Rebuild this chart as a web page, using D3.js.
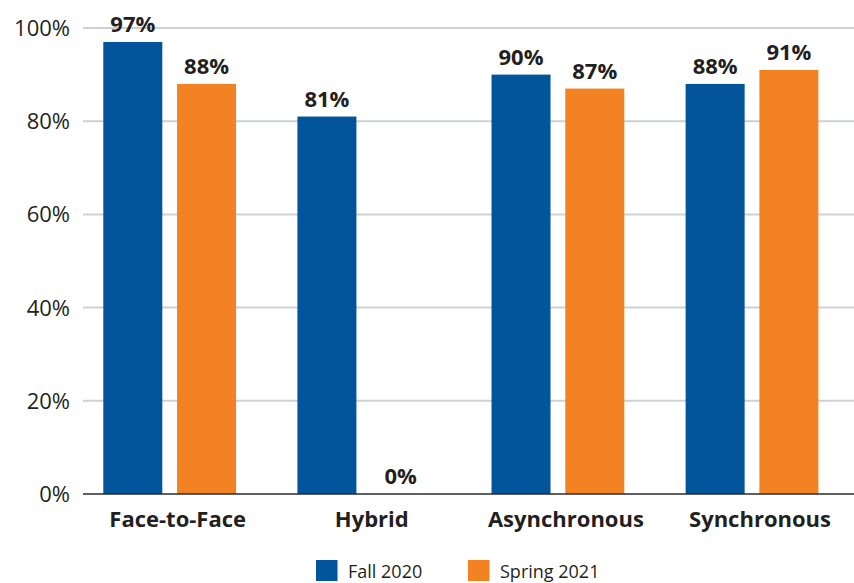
<!DOCTYPE html>
<html>
<head>
<meta charset="utf-8">
<script src="https://cdn.jsdelivr.net/npm/d3@7"></script>
<style>
  html, body { margin: 0; padding: 0; background: #ffffff; }
  svg { display: block; font-family: "Open Sans", "Noto Sans", sans-serif; }
</style>
</head>
<body>
<svg id="chart" width="854" height="583"></svg>
<script>
// Course modality categories and the share for each term
const categories = ["Face-to-Face", "Hybrid", "Asynchronous", "Synchronous"];
const seriesNames = ["Fall 2020", "Spring 2021"];
const fall2020 = [0.97, 0.81, 0.90, 0.88];
const spring2021 = [0.88, 0.00, 0.87, 0.91];
const yTicks = [0, 0.2, 0.4, 0.6, 0.8, 1.0];

const seriesValues = [fall2020, spring2021];
const colors = ["#02559a", "#f38222"];
const textColor = "#231f20";

const svg = d3.select("#chart");
const plotLeft = 83, plotRight = 854;

const y = d3.scaleLinear().domain([0, 1]).range([494, 28]);

const x0 = d3.scaleBand()
  .domain(categories)
  .range([103.3, 818.4])
  .paddingInner(0.316)
  .paddingOuter(0);

const x1 = d3.scaleBand()
  .domain(seriesNames)
  .range([0, x0.bandwidth()])
  .paddingInner(0.2)
  .paddingOuter(0);

const pct = d3.format(".0%");

// Horizontal gridlines
svg.append("g")
  .selectAll("line")
  .data(yTicks.filter(t => t > 0))
  .join("line")
  .attr("x1", plotLeft).attr("x2", plotRight)
  .attr("y1", d => y(d)).attr("y2", d => y(d))
  .attr("stroke", "#cdd1d5")
  .attr("stroke-width", 2);

// Y-axis tick labels
svg.append("g")
  .selectAll("text")
  .data(yTicks)
  .join("text")
  .attr("x", 70)
  .attr("y", d => y(d))
  .attr("dy", "0.36em")
  .attr("text-anchor", "end")
  .attr("font-size", 22)
  .attr("fill", textColor)
  .text(d => pct(d));

// Bars grouped by category
const groups = svg.append("g")
  .selectAll("g")
  .data(categories)
  .join("g")
  .attr("transform", c => `translate(${x0(c)},0)`);

const cells = groups.selectAll("g")
  .data((c, i) => seriesNames.map((s, k) => ({ series: s, k, value: seriesValues[k][i] })))
  .join("g");

cells.append("rect")
  .attr("x", d => x1(d.series))
  .attr("width", x1.bandwidth())
  .attr("y", d => y(d.value))
  .attr("height", d => y(0) - y(d.value))
  .attr("fill", d => colors[d.k]);

cells.append("text")
  .attr("x", d => x1(d.series) + x1.bandwidth() / 2)
  .attr("y", d => y(d.value) - 10)
  .attr("text-anchor", "middle")
  .attr("font-size", 22)
  .attr("font-weight", "bold")
  .attr("fill", textColor)
  .text(d => pct(d.value));

// Baseline
svg.append("line")
  .attr("x1", plotLeft).attr("x2", plotRight)
  .attr("y1", y(0)).attr("y2", y(0))
  .attr("stroke", "#2b2b2b")
  .attr("stroke-width", 1.6);

// Category labels
svg.append("g")
  .selectAll("text")
  .data(categories)
  .join("text")
  .attr("x", c => x0(c) + x0.bandwidth() / 2)
  .attr("dx", 8)
  .attr("y", 527)
  .attr("text-anchor", "middle")
  .attr("font-size", 22)
  .attr("font-weight", "bold")
  .attr("fill", textColor)
  .text(c => c);

// Legend
const legendX = [316, 468];
const legend = svg.append("g")
  .selectAll("g")
  .data(seriesNames)
  .join("g")
  .attr("transform", (s, i) => `translate(${legendX[i]},560)`);

legend.append("rect")
  .attr("width", 21.5)
  .attr("height", 21)
  .attr("fill", (s, i) => colors[i]);

legend.append("text")
  .attr("x", 32)
  .attr("y", 18)
  .attr("font-size", 18)
  .attr("fill", textColor)
  .text(s => s);
</script>
</body>
</html>
